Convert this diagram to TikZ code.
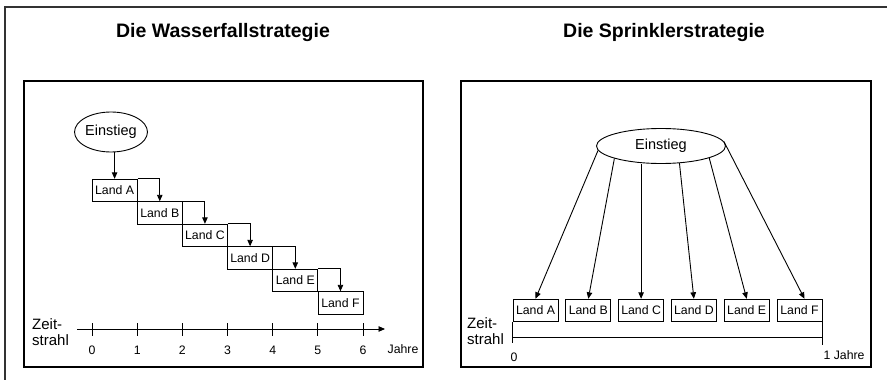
\documentclass[tikz,border=0pt]{standalone}
\usepackage{fontspec}
\setmainfont{Liberation Sans}
\usetikzlibrary{arrows.meta,shapes.geometric}
\begin{document}
\begin{tikzpicture}[x=1pt,y=-1pt,
  frame/.style={draw,line width=1.1pt},
  landbox/.style={draw,line width=0.9pt,minimum width=45pt,minimum height=22.5pt,inner sep=0pt,font=\fontsize{12.3}{14}\selectfont},
  entry/.style={draw,ellipse,line width=0.9pt,inner sep=0pt,font=\fontsize{14.5}{16}\selectfont},
  arr/.style={line width=0.9pt,-{Triangle[length=6.5pt,width=5.5pt]}},
  title/.style={font=\bfseries\fontsize{19.5}{22}\selectfont},
  small/.style={font=\fontsize{12.3}{14}\selectfont},
  axis/.style={line width=0.9pt},
  zeit/.style={font=\fontsize{15}{15.5}\selectfont,align=left,inner sep=0pt,anchor=west}]
\useasboundingbox (0,0) rectangle (887,380);
\draw[line width=1.3pt,black!80] (5,380) -- (5,7) -- (887,7);

% left panel
\draw[frame] (24,81) rectangle (423,367);
\node[title] (t1) at (223,33) {Die Wasserfallstrategie};
\node[entry,minimum width=68pt,minimum height=40pt] (e1) at (111,132) {Einstieg};
\foreach \n/\i in {A/0,B/1,C/2,D/3,E/4,F/5}
  \node[landbox] (w\n) at ({114.6+45.17*\i},{190.5+22.5*\i}) {Land \n};
\draw[arr] (e1.south -| wA.north) -- (wA.north);
\foreach \a/\b in {A/B,B/C,C/D,D/E,E/F}
  \draw[arr] (w\a.north east) -| (w\b.north);
\coordinate (l0) at (77,329);
\coordinate (l1) at (385,329);
\draw[axis,-{Triangle[length=6.5pt,width=5.5pt]}] (l0) -- (l1);
\foreach \i in {0,...,6} {
  \draw[axis] ({92+45.17*\i},323) -- ++(0,13);
  \node[small] (lt\i) at ({92+45.17*\i},350) {\i};
}
\node[small] (lj) at (403,349) {Jahre};
\node[zeit] (lz) at (32,332) {Zeit-\\strahl};

% right panel
\draw[frame] (461,81) rectangle (871,367);
\node[title] (t2) at (664,33) {Die Sprinklerstrategie};
\node[entry,minimum width=129pt,minimum height=35pt] (e2) at (661,146) {Einstieg};
\foreach \n/\i in {A/0,B/1,C/2,D/3,E/4,F/5}
  \node[landbox] (s\n) at ({535.5+52.8*\i},310.5) {Land \n};
\draw[arr] (e2.184) -- (sA.north);
\draw[arr] (e2.195) -- (sB.north);
\draw[arr] (sC.north |- e2.south) -- (sC.north);
\draw[arr] (e2.317) -- (sD.north);
\draw[arr] (e2.346) -- (sE.north);
\draw[arr] (e2.4) -- ([xshift=5pt]sF.north);
\coordinate (rb) at (0,337);
\draw[axis] (sA.south west) -- ++(0,21);
\draw[axis] (sF.south east) -- ++(0,23);
\draw[axis] (sA.south west |- rb) -- (sF.south east |- rb);
\node[small] (r0) at (514,357) {0};
\node[small,anchor=west] (rj) at (820,355) {1 Jahre};
\node[zeit] (rz) at (467,331) {Zeit-\\strahl};
\end{tikzpicture}
\end{document}
